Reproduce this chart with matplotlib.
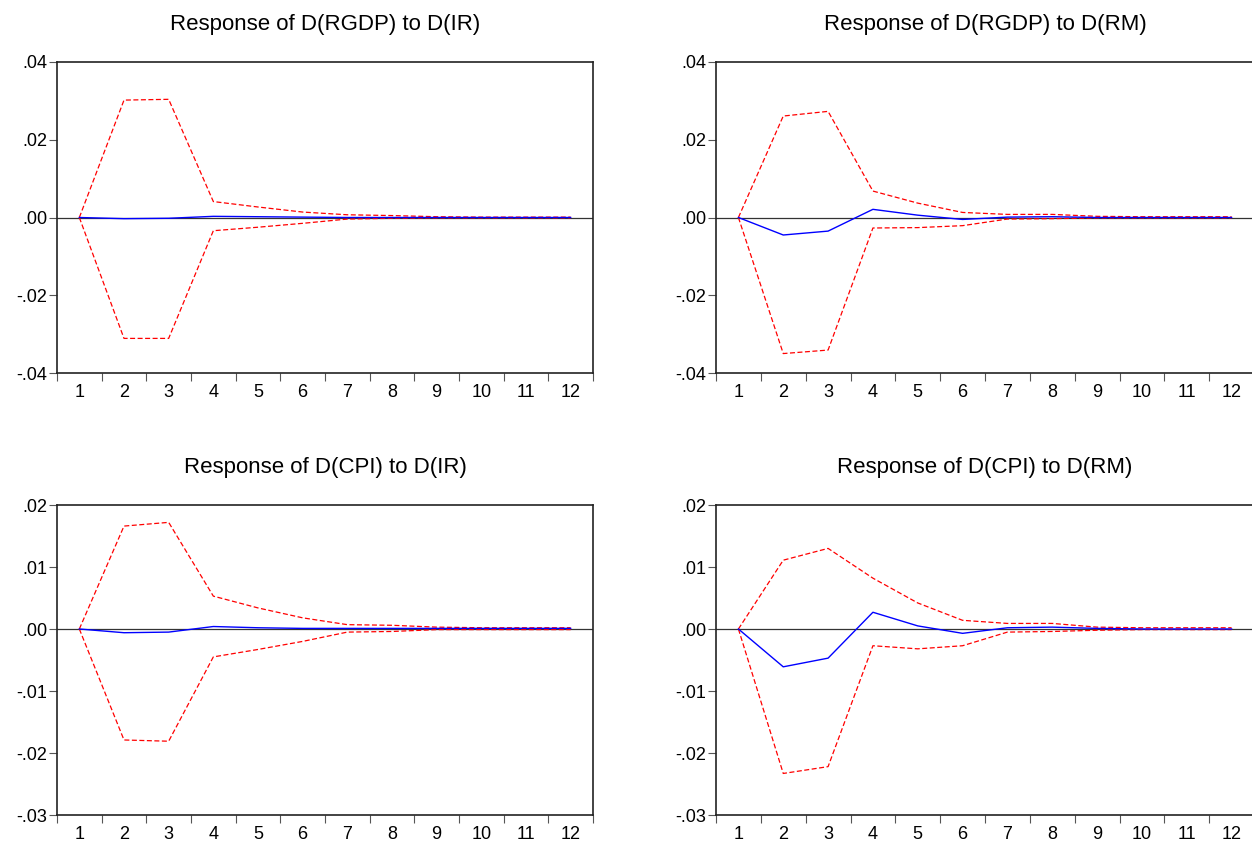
"""Impulse responses (Cholesky, +/- 2 S.E.) for D(RGDP) and D(CPI) to D(IR) and D(RM).

Four EViews-style panels, 12 periods each. Saves out.png.
"""
import matplotlib
matplotlib.use('Agg')
import matplotlib.pyplot as plt
from matplotlib.ticker import FixedLocator, FuncFormatter

plt.rcParams['font.family'] = ['Liberation Sans', 'DejaVu Sans']

PERIODS = list(range(1, 13))

# Response of D(RGDP) to D(IR)
RGDP_IR = [0.0, -0.0003, -0.0002, 0.0003, 0.0002, 0.0001, 0.0, 0.0, 0.0, 0.0, 0.0, 0.0]
RGDP_IR_HI = [0.0, 0.0302, 0.0304, 0.0041, 0.0027, 0.0014, 0.0007, 0.0005, 0.0002, 0.0001, 0.0001, 0.0001]
RGDP_IR_LO = [0.0, -0.0311, -0.0311, -0.0034, -0.0025, -0.0015, -0.0004, -0.0002, -0.0001, -0.0001, -0.0001, -0.0001]

# Response of D(RGDP) to D(RM)
RGDP_RM = [0.0, -0.0045, -0.0035, 0.0021, 0.0006, -0.0005, 0.0001, 0.0002, 0.0, 0.0, 0.0, 0.0]
RGDP_RM_HI = [0.0, 0.0261, 0.0273, 0.0068, 0.0037, 0.0013, 0.0008, 0.0008, 0.0003, 0.0002, 0.0002, 0.0002]
RGDP_RM_LO = [0.0, -0.0350, -0.0341, -0.0027, -0.0026, -0.0021, -0.0004, -0.0003, -0.0001, -0.0001, -0.0001, -0.0001]

# Response of D(CPI) to D(IR)
CPI_IR = [0.0, -0.0006, -0.0005, 0.0004, 0.0002, 0.0001, 0.0001, 0.0001, 0.0001, 0.0001, 0.0001, 0.0001]
CPI_IR_HI = [0.0, 0.0166, 0.0172, 0.0053, 0.0034, 0.0018, 0.0007, 0.0006, 0.0003, 0.0002, 0.0002, 0.0002]
CPI_IR_LO = [0.0, -0.0179, -0.0181, -0.0045, -0.0033, -0.0020, -0.0005, -0.0004, -0.0001, -0.0001, -0.0001, -0.0001]

# Response of D(CPI) to D(RM)
CPI_RM = [0.0, -0.0061, -0.0047, 0.0027, 0.0005, -0.0007, 0.0002, 0.0003, 0.0001, 0.0, 0.0, 0.0]
CPI_RM_HI = [0.0, 0.0111, 0.0130, 0.0082, 0.0042, 0.0014, 0.0009, 0.0009, 0.0003, 0.0002, 0.0002, 0.0002]
CPI_RM_LO = [0.0, -0.0233, -0.0222, -0.0027, -0.0032, -0.0027, -0.0005, -0.0004, -0.0002, -0.0001, -0.0001, -0.0001]

TITLES = [
    'Response of D(RGDP) to D(IR)',
    'Response of D(RGDP) to D(RM)',
    'Response of D(CPI) to D(IR)',
    'Response of D(CPI) to D(RM)',
]

W, H = 1252, 843


def _frac(left, top, right, bottom):
    # pixel box -> figure fraction rect
    return [left / W, 1 - bottom / H, (right - left) / W, (bottom - top) / H]


def _fmt(v, _pos):
    s = f'{v:.2f}'
    return s.replace('0.', '.', 1)


def draw_panel(ax, title, resp, hi, lo, ylim, yticks):
    ax.axhline(0, color='#333333', lw=0.9, zorder=1)
    ax.plot(PERIODS, hi, color='#ff0000', lw=0.9, dashes=(4, 2), zorder=2)
    ax.plot(PERIODS, lo, color='#ff0000', lw=0.9, dashes=(4, 2), zorder=2)
    ax.plot(PERIODS, resp, color='#0000ff', lw=1.0, zorder=3)

    ax.set_xlim(0.5, 12.5)
    ax.set_ylim(*ylim)
    ax.xaxis.set_major_locator(FixedLocator(PERIODS))
    ax.xaxis.set_minor_locator(FixedLocator([p - 0.5 for p in PERIODS] + [12.5]))
    ax.yaxis.set_major_locator(FixedLocator(yticks))
    ax.yaxis.set_major_formatter(FuncFormatter(_fmt))

    ax.tick_params(axis='x', which='major', length=0, pad=8, labelsize=13)
    ax.tick_params(axis='x', which='minor', length=6, width=0.8,
                   color='#555555', direction='out')
    ax.tick_params(axis='y', which='major', length=6, width=0.8,
                   color='#555555', direction='out', pad=1, labelsize=13)
    for sp in ax.spines.values():
        sp.set_color('#222222')
        sp.set_linewidth(1.2)
    ax.set_title(title, fontsize=16, pad=23)


def main():
    fig = plt.figure(figsize=(W / 100, H / 100), dpi=100)
    fig.patch.set_facecolor('white')

    boxes = [
        _frac(57, 62, 593, 373),
        _frac(716, 62, 1254, 373),
        _frac(57, 505, 593, 815),
        _frac(716, 505, 1254, 815),
    ]
    data = [
        (RGDP_IR, RGDP_IR_HI, RGDP_IR_LO),
        (RGDP_RM, RGDP_RM_HI, RGDP_RM_LO),
        (CPI_IR, CPI_IR_HI, CPI_IR_LO),
        (CPI_RM, CPI_RM_HI, CPI_RM_LO),
    ]
    rgdp_ticks = [-0.04, -0.02, 0.0, 0.02, 0.04]
    cpi_ticks = [-0.03, -0.02, -0.01, 0.0, 0.01, 0.02]
    limits = [(-0.04, 0.04), (-0.04, 0.04), (-0.03, 0.02), (-0.03, 0.02)]
    ticks = [rgdp_ticks, rgdp_ticks, cpi_ticks, cpi_ticks]

    for box, title, (resp, hi, lo), ylim, yt in zip(boxes, TITLES, data, limits, ticks):
        ax = fig.add_axes(box)
        draw_panel(ax, title, resp, hi, lo, ylim, yt)

    fig.savefig('out.png', dpi=100)
    plt.close(fig)


if __name__ == '__main__':
    main()
